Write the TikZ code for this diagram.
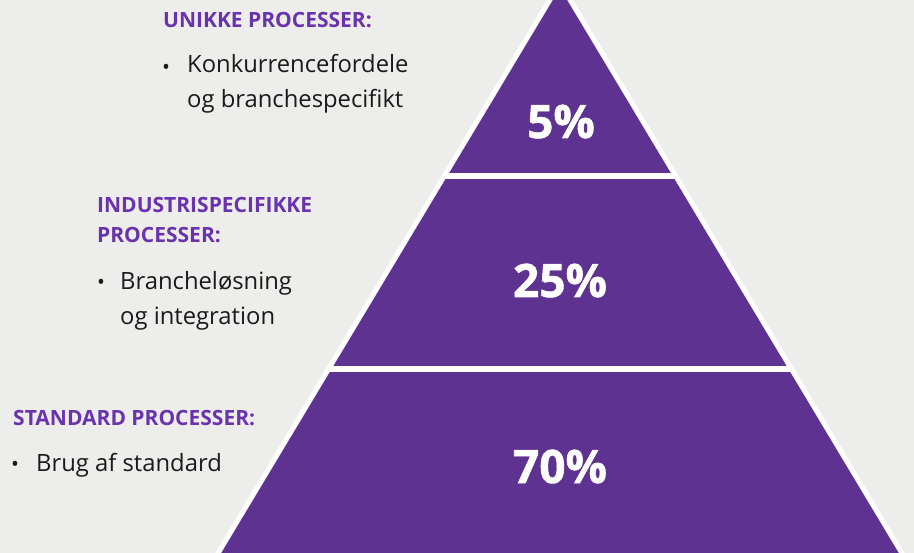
\documentclass[tikz,border=0pt]{standalone}
\usepackage{fontspec}
\setmainfont{Open Sans}
\newfontfamily\sharefont{Open Sans}[BoldFeatures={FakeBold=1.2}]
\usetikzlibrary{positioning}
\definecolor{pyrpurple}{HTML}{5E3291}
\definecolor{headpurple}{HTML}{6933AE}
\definecolor{bggray}{HTML}{EDEDEB}
\definecolor{bodytext}{HTML}{1A1A1A}
\begin{document}
\begin{tikzpicture}[x=1pt, y=-1pt,
		heading/.style={anchor=base west, inner sep=0, align=left, text=headpurple, font=\fontsize{21}{30}\selectfont\bfseries},
		item/.style={anchor=base west, inner sep=0, align=left, text=bodytext, font=\fontsize{23.8}{35}\selectfont},
		dot/.style={anchor=base, inner sep=0, text=bodytext, font=\fontsize{21}{35}\selectfont},
		share/.style={anchor=base, inner sep=0, text=white, font=\sharefont\fontsize{46}{46}\selectfont\bfseries}]
	\useasboundingbox (0,0) rectangle (914,553);
	\clip (0,0) rectangle (914,553);
	\fill[bggray] (0,0) rectangle (914,553);
	
	\coordinate (apex) at (560,-17);
	\coordinate (bl) at (190,600);
	\coordinate (br) at (930,600);
	\filldraw[fill = pyrpurple, draw = white, line width = 5pt, line join = miter] (apex) -- (br) -- (bl) -- cycle;
	\begin{scope}
		\clip (apex) -- (br) -- (bl) -- cycle;
		\draw[white, line width = 6pt] (300,176) -- (820,176);
		\draw[white, line width = 6pt] (200,369) -- (920,369);
	\end{scope}
	
	\node[share] (p1) at (561,138) {5\%};
	\node[share] (p2) at (560,297) {25\%};
	\node[share] (p3) at (560,483) {70\%};
	
	% base of a two-line node is the baseline of its last line
	\node[heading] (h1) at (163,28) {UNIKKE PROCESSER:};
	\node[dot] (d1) at (166,75) {•};
	\node[item] (t1) at (187,108) {Konkurrencefordele\\og branchespecifikt};
	
	\node[heading] (h2) at (97,243) {INDUSTRISPECIFIKKE\\PROCESSER:};
	\node[dot] (d2) at (101,290) {•};
	\node[item] (t2) at (120,325) {Brancheløsning\\og integration};
	
	\node[heading] (h3) at (13,426) {STANDARD PROCESSER:};
	\node[dot] (d3) at (15,472) {•};
	\node[item] (t3) at (36,472) {Brug af standard};
\end{tikzpicture}
\end{document}
